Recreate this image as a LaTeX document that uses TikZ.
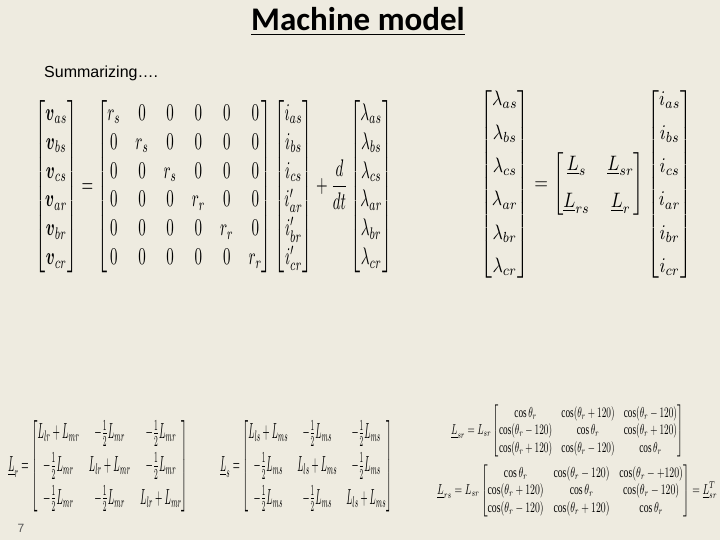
\documentclass[tikz,border=0pt]{standalone}
\usepackage{amsmath,graphicx}
\usepackage{fontspec}
\setmainfont{Liberation Serif}
\newfontfamily\titlefont{Carlito}
\newfontfamily\bodyfont{Liberation Sans}
\definecolor{bg}{HTML}{EEEBE0}
\definecolor{pnum}{HTML}{555555}
\tikzset{eq/.style={inner sep=0pt,anchor=north west}}
\begin{document}
\begin{tikzpicture}[x=1pt,y=-1pt]
\fill[bg] (0,0) rectangle (720,540);
\useasboundingbox (0,0) rectangle (720,540);
\node[inner sep=0pt] (title) at (358,22) {\titlefont\bfseries\fontsize{33}{38}\selectfont\underline{Machine model}};
\node[inner sep=0pt,anchor=west] (summ) at (44,73) {\bodyfont\fontsize{16}{18}\selectfont Summarizing\ldots.};
\node[eq] (volt) at (35,100) {\resizebox*{357pt}{173pt}{$
\begin{bmatrix}\boldsymbol{v}_{as}\\ \boldsymbol{v}_{bs}\\ \boldsymbol{v}_{cs}\\ \boldsymbol{v}_{ar}\\ \boldsymbol{v}_{br}\\ \boldsymbol{v}_{cr}\end{bmatrix}
=\begin{bmatrix}r_s&0&0&0&0&0\\0&r_s&0&0&0&0\\0&0&r_s&0&0&0\\0&0&0&r_r&0&0\\0&0&0&0&r_r&0\\0&0&0&0&0&r_r\end{bmatrix}
\begin{bmatrix}i_{as}\\ i_{bs}\\ i_{cs}\\ i'_{ar}\\ i'_{br}\\ i'_{cr}\end{bmatrix}
+\dfrac{d}{dt}\begin{bmatrix}\lambda_{as}\\ \lambda_{bs}\\ \lambda_{cs}\\ \lambda_{ar}\\ \lambda_{br}\\ \lambda_{cr}\end{bmatrix}$}};
\node[eq] (flux) at (480,88) {\resizebox*{212pt}{192pt}{$
\begin{bmatrix}\lambda_{as}\\[4pt] \lambda_{bs}\\[4pt] \lambda_{cs}\\[4pt] \lambda_{ar}\\[4pt] \lambda_{br}\\[4pt] \lambda_{cr}\end{bmatrix}
=\left[\begin{matrix}\underline{L}_s&\underline{L}_{sr}\\[6pt] \underline{L}_{rs}&\underline{L}_r\end{matrix}\right]
\begin{bmatrix}i_{as}\\[4pt] i_{bs}\\[4pt] i_{cs}\\[4pt] i_{ar}\\[4pt] i_{br}\\[4pt] i_{cr}\end{bmatrix}$}};
\node[eq] (lr) at (8,420) {\resizebox*{180pt}{92pt}{$\underline{L}_r=\begin{bmatrix}L_{lr}+L_{mr}&-\frac12 L_{mr}&-\frac12 L_{mr}\\[3pt] -\frac12 L_{mr}&L_{lr}+L_{mr}&-\frac12 L_{mr}\\[3pt] -\frac12 L_{mr}&-\frac12 L_{mr}&L_{lr}+L_{mr}\end{bmatrix}$}};
\node[eq] (ls) at (220,420) {\resizebox*{172pt}{92pt}{$\underline{L}_s=\begin{bmatrix}L_{ls}+L_{ms}&-\frac12 L_{ms}&-\frac12 L_{ms}\\[3pt] -\frac12 L_{ms}&L_{ls}+L_{ms}&-\frac12 L_{ms}\\[3pt] -\frac12 L_{ms}&-\frac12 L_{ms}&L_{ls}+L_{ms}\end{bmatrix}$}};
\node[eq] (lsr) at (451,405) {\resizebox*{232pt}{52pt}{$\underline{L}_{sr}=L_{sr}\begin{bmatrix}\cos\theta_r&\cos(\theta_r+120)&\cos(\theta_r-120)\\ \cos(\theta_r-120)&\cos\theta_r&\cos(\theta_r+120)\\ \cos(\theta_r+120)&\cos(\theta_r-120)&\cos\theta_r\end{bmatrix}$}};
\node[eq] (lrs) at (437,465) {\resizebox*{280pt}{52pt}{$\underline{L}_{rs}=L_{sr}\begin{bmatrix}\cos\theta_r&\cos(\theta_r-120)&\cos(\theta_r-{+}120)\\ \cos(\theta_r+120)&\cos\theta_r&\cos(\theta_r-120)\\ \cos(\theta_r-120)&\cos(\theta_r+120)&\cos\theta_r\end{bmatrix}=\underline{L}_{sr}^T$}};
\node[inner sep=0pt,text=pnum] (pg) at (21,528) {\bodyfont\fontsize{12}{14}\selectfont 7};
\end{tikzpicture}
\end{document}
